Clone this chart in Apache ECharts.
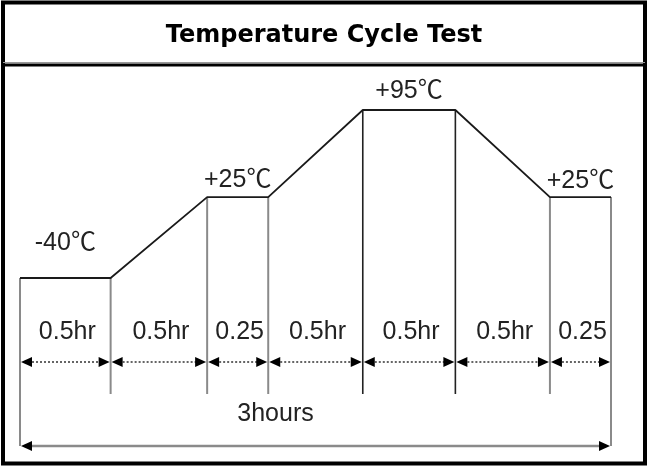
<!DOCTYPE html>
<html><head><meta charset="utf-8">
<script src="https://cdn.jsdelivr.net/npm/echarts@6/dist/echarts.min.js"></script>
<style>html,body{margin:0;padding:0;background:#fff}#c{width:648px;height:466px}</style>
</head><body><div id="c"></div>
<script>
// ---- data ----
const chartTitle = 'Temperature Cycle Test';
const breakTimes = [0, 0.46, 0.95, 1.26, 1.74, 2.21, 2.69, 3];
const breakTemps = [-40, -40, 25, 25, 95, 95, 25, 25];
const segmentLabels = ['0.5hr', '0.5hr', '0.25', '0.5hr', '0.5hr', '0.5hr', '0.25'];
const plateauLabels = ['-40℃', '+25℃', '+95℃', '+25℃'];
const plateauStartIdx = [0, 2, 4, 6];
const totalLabel = '3hours';

// ---- layout / style constants ----
const Y_MIN = -175, Y_MAX = 95;
const FONT = 'Liberation Sans, Arial, Noto Sans CJK KR, sans-serif';
const labelLift = [35, 17, 19, 16];
const darkVerticals = [4, 5];

const chart = echarts.init(document.getElementById('c'));

function arrowHead(tipX, y, dir) {
  const L = 11, H = 5;
  return { type: 'polygon', shape: { points: [[tipX, y], [tipX - dir * L, y - H], [tipX - dir * L, y + H]] },
    style: { fill: '#000' } };
}
function txt(text, x, y, size) {
  return { type: 'text', style: { text: text, x: x, y: y, align: 'center', verticalAlign: 'middle',
    fontSize: size, fontFamily: FONT, fill: '#222' } };
}

const profileData = breakTimes.map((t, i) => [t, breakTemps[i]]);
const verticalData = breakTimes.map((t, i) => [t, breakTemps[i], i]);
const segmentData = segmentLabels.map((lab, i) => [breakTimes[i], breakTimes[i + 1], i]);
const plateauData = plateauLabels.map((lab, k) => {
  const i = plateauStartIdx[k];
  return [breakTimes[i], breakTimes[i + 1], breakTemps[i], k];
});

chart.setOption({
  animation: false,
  title: { text: chartTitle, left: 'center', top: 19,
    textStyle: { fontFamily: 'DejaVu Sans, Verdana, sans-serif', fontWeight: 'bold', fontSize: 24, color: '#000' } },
  grid: { left: 20, right: 37, top: 110, bottom: 20 },
  xAxis: { type: 'value', min: 0, max: 3, show: false },
  yAxis: { type: 'value', min: Y_MIN, max: Y_MAX, show: false },
  graphic: [
    { type: 'rect', shape: { x: 3, y: 2.5, width: 642, height: 461 }, style: { fill: 'none', stroke: '#000', lineWidth: 4 }, z: 100 },
    { type: 'line', shape: { x1: 3, y1: 62.5, x2: 645, y2: 62.5 }, style: { stroke: '#999', lineWidth: 1 }, z: 100 },
    { type: 'line', shape: { x1: 3, y1: 65, x2: 645, y2: 65 }, style: { stroke: '#000', lineWidth: 3 }, z: 100 }
  ],
  series: [
    {
      type: 'custom', coordinateSystem: 'cartesian2d', data: verticalData, z: 2,
      renderItem: function (params, api) {
        const t = api.value(0), T = api.value(1), i = api.value(2);
        const top = api.coord([t, T]);
        const base = api.coord([t, Y_MIN])[1];
        const edge = (i === 0 || i === breakTimes.length - 1);
        const bottom = edge ? base : base - 52;
        const dark = darkVerticals.indexOf(i) >= 0;
        return { type: 'line', shape: { x1: top[0], y1: top[1], x2: top[0], y2: bottom },
          style: { stroke: dark ? '#222' : '#8a8a8a', lineWidth: dark ? 1.6 : 2 } };
      }
    },
    {
      type: 'line', data: profileData, symbol: 'none', z: 3,
      lineStyle: { color: '#1a1a1a', width: 1.8 }
    },
    {
      type: 'custom', coordinateSystem: 'cartesian2d', data: segmentData, z: 4,
      renderItem: function (params, api) {
        const a = api.coord([api.value(0), Y_MIN]);
        const b = api.coord([api.value(1), Y_MIN]);
        const y = a[1] - 84;
        const idx = api.value(2);
        return { type: 'group', children: [
          { type: 'line', shape: { x1: a[0] + 8, y1: y, x2: b[0] - 8, y2: y },
            style: { stroke: '#333', lineWidth: 1.5, lineDash: [2, 2] } },
          arrowHead(a[0] + 1, y, -1),
          arrowHead(b[0] - 1, y, 1),
          txt(segmentLabels[idx], (a[0] + b[0]) / 2 + 2, a[1] - 114, 25)
        ] };
      }
    },
    {
      type: 'custom', coordinateSystem: 'cartesian2d', data: plateauData, z: 4,
      renderItem: function (params, api) {
        const a = api.coord([api.value(0), api.value(2)]);
        const b = api.coord([api.value(1), api.value(2)]);
        const k = api.value(3);
        return txt(plateauLabels[k], (a[0] + b[0]) / 2, a[1] - labelLift[k], 25);
      }
    },
    {
      type: 'custom', coordinateSystem: 'cartesian2d', data: [[breakTimes[0], breakTimes[breakTimes.length - 1]]], z: 4,
      renderItem: function (params, api) {
        const a = api.coord([api.value(0), Y_MIN]);
        const b = api.coord([api.value(1), Y_MIN]);
        const y = a[1];
        return { type: 'group', children: [
          { type: 'line', shape: { x1: a[0] + 8, y1: y, x2: b[0] - 8, y2: y }, style: { stroke: '#8a8a8a', lineWidth: 2.5 } },
          arrowHead(a[0] + 1, y, -1),
          arrowHead(b[0] - 1, y, 1),
          txt(totalLabel, (a[0] + b[0]) / 2 - 40, y - 32, 25)
        ] };
      }
    }
  ]
});
</script>
</body></html>
